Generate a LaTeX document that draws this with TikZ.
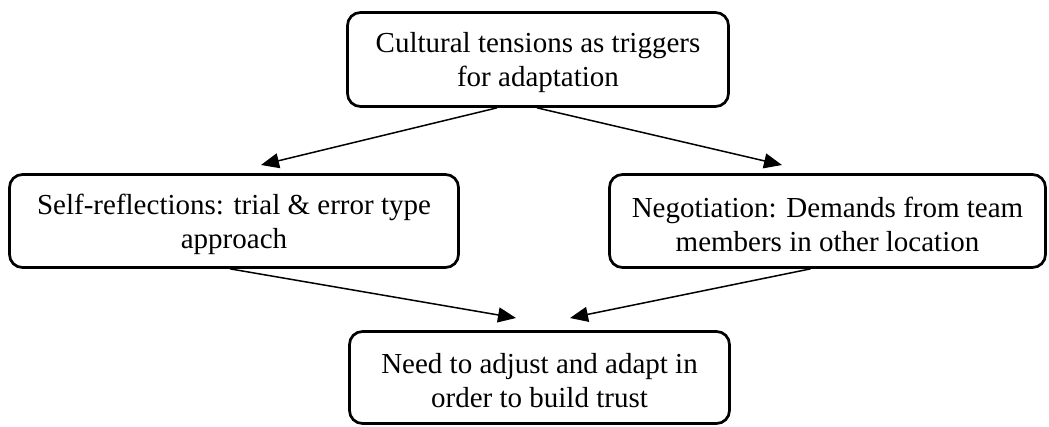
\documentclass[tikz,border=0pt]{standalone}
\usepackage{fontspec}
\setmainfont{Liberation Serif}
\usetikzlibrary{arrows.meta}
% raises the first text line so the two lines sit a little low in each box
\newcommand{\firstlinelift}{\rule{0pt}{27pt}}
\begin{document}
\begin{tikzpicture}[x=1pt,y=-1pt,
  stagebox/.style={draw=black, line width=2.7pt, rounded corners=13pt,
    inner sep=0pt, align=center, font=\fontsize{29}{34}\selectfont},
  flow/.style={line width=1.5pt, -{Triangle[length=18pt,width=15pt]}}]
\useasboundingbox (0,0) rectangle (1049,426);

\node[stagebox, minimum width=381pt, minimum height=94pt] (tension) at (538,59.5)
  {\firstlinelift Cultural tensions as triggers\\for adaptation};
\node[stagebox, minimum width=449pt, minimum height=93pt] (reflect) at (234,221)
  {\firstlinelift Self-reflections: trial \& error type\\approach};
\node[stagebox, minimum width=436pt, minimum height=93pt] (negotiate) at (827.5,221)
  {\firstlinelift Negotiation: Demands from team\\members in other location};
\node[stagebox, minimum width=380pt, minimum height=92pt] (adapt) at (539.5,377.5)
  {\firstlinelift Need to adjust and adapt in\\order to build trust};

% arrow tips stop short of the boxes they point at
\coordinate (reflectTip) at (261,165);
\coordinate (negotiateTip) at (782,165);
\coordinate (adaptTipL) at (516,318);
\coordinate (adaptTipR) at (570,318);

\draw[flow] ([xshift=-41pt]tension.south) -- (reflectTip);
\draw[flow] ([xshift=-1pt]tension.south) -- (negotiateTip);
\draw[flow] ([xshift=-4pt]reflect.south) -- (adaptTipL);
\draw[flow] ([xshift=-17pt]negotiate.south) -- (adaptTipR);
\end{tikzpicture}
\end{document}
